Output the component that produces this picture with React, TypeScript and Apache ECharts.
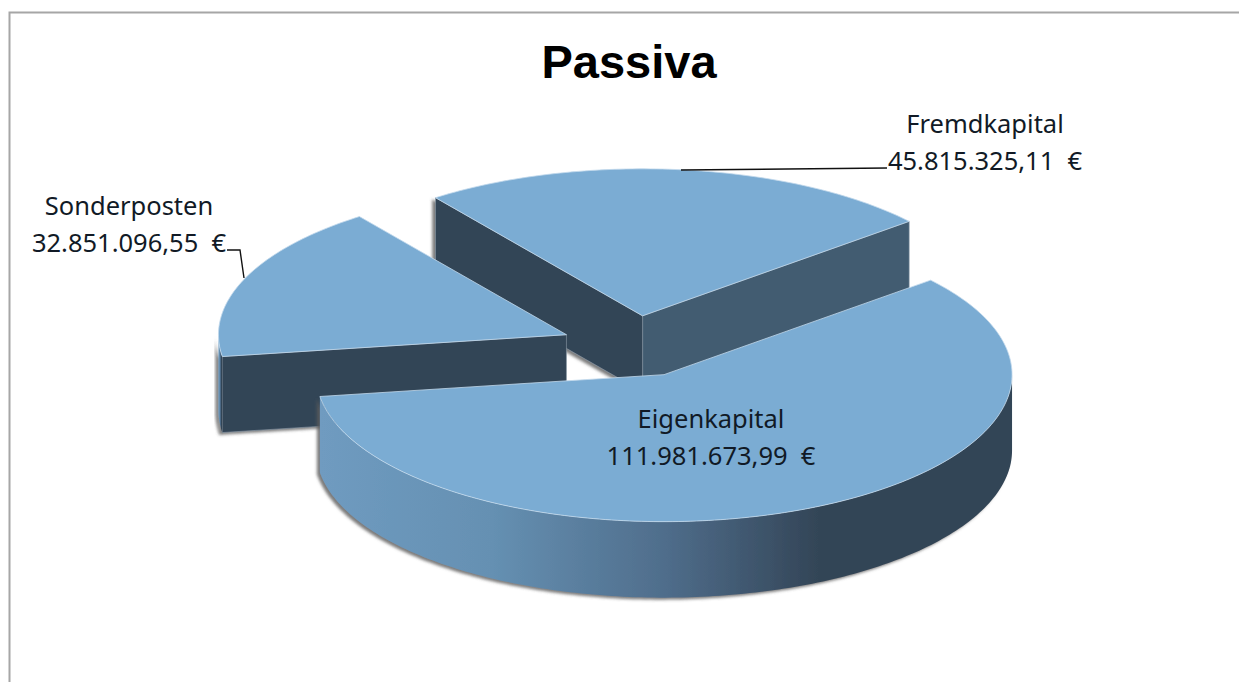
import React, { useEffect, useRef } from "react";
import * as echarts from "echarts";

const chartTitle = "Passiva";
const categories = ["Fremdkapital", "Sonderposten", "Eigenkapital"];
const amounts = [45815325.11, 32851096.55, 111981673.99];

const W = 1239;
const H = 682;
const START_ANGLE = 40;
const CENTER = [634, 346.5];
const RX = 348;
const RY = 147;
const DEPTH = 76;
const EXPLODE = 0.21;
const TOP_COLOR = "#7bacd3";
const FONT = '25.5px "Noto Sans", sans-serif';
const LABEL_POS = [
  [985, 141.5],
  [129, 223.5],
  [711, 436.5],
];
const LEADERS = [
  [[681, 170], [887, 168]],
  [[227, 250], [240, 250], [244, 278]],
  null,
];

const total = amounts.reduce((a, b) => a + b, 0);
const fmt = (v: number) =>
  v.toLocaleString("de-DE", { minimumFractionDigits: 2, maximumFractionDigits: 2 }) + "  €";
const rad = (d: number) => (d * Math.PI) / 180;

function arc(cx: number, cy: number, a1: number, a2: number) {
  const n = Math.max(1, Math.ceil(Math.abs(a2 - a1)));
  const pts: number[][] = [];
  for (let i = 0; i <= n; i++) {
    const a = rad(a1 + ((a2 - a1) * i) / n);
    pts.push([cx + RX * Math.cos(a), cy - RY * Math.sin(a)]);
  }
  return pts;
}

const SHADOW = { shadowBlur: 3, shadowColor: "rgba(90,90,90,0.8)", shadowOffsetX: -3, shadowOffsetY: 2 };

function renderItem(params: any) {
  const i = params.dataIndex;
  let a1 = START_ANGLE;
  for (let k = 0; k < i; k++) a1 += (amounts[k] / total) * 360;
  const a2 = a1 + (amounts[i] / total) * 360;
  const mid = rad((a1 + a2) / 2);
  const cx = CENTER[0] + EXPLODE * RX * Math.cos(mid);
  const cy = CENTER[1] - EXPLODE * RY * Math.sin(mid);
  const children: any[] = [];

  const cut = (angle: number, normal: number) => {
    const n = rad(normal);
    if (Math.sin(n) >= 0) return;
    const a = rad(angle);
    const ex = cx + RX * Math.cos(a);
    const ey = cy - RY * Math.sin(a);
    children.push({
      type: "polygon",
      shape: { points: [[cx, cy], [ex, ey], [ex, ey + DEPTH], [cx, cy + DEPTH]] },
      style: { fill: Math.cos(n) > 0.4 ? "#425c71" : "#334557", stroke: "#8c9aa8", lineWidth: 0.6, ...SHADOW },
    });
  };
  cut(a1, a1 - 90);
  cut(a2, a2 + 90);

  const w1 = Math.max(a1, 180);
  const w2 = Math.min(a2, 360);
  if (w2 > w1) {
    const topArc = arc(cx, cy, w1, w2);
    const botArc = arc(cx, cy + DEPTH, w2, w1);
    children.push({
      type: "polygon",
      shape: { points: [...topArc, ...botArc] },
      style: {
        fill: new echarts.graphic.LinearGradient(0, 0, 1, 0, [
          { offset: 0, color: "#6f9bc0" },
          { offset: 0.25, color: "#6590b2" },
          { offset: 0.5, color: "#4f6d8b" },
          { offset: 0.72, color: "#334557" },
          { offset: 1, color: "#334557" },
        ]),
        ...SHADOW,
      },
    });
  }

  children.push({
    type: "polygon",
    shape: { points: [[cx, cy], ...arc(cx, cy, a1, a2)] },
    style: { fill: TOP_COLOR, stroke: "#c3d9ec", lineWidth: 0.8 },
  });

  const leader = LEADERS[i];
  if (leader) {
    children.push({
      type: "polyline",
      shape: { points: leader },
      style: { stroke: "#111111", lineWidth: 1.4, fill: "none" },
    });
  }
  children.push({
    type: "text",
    x: LABEL_POS[i][0],
    y: LABEL_POS[i][1],
    style: {
      text: `${categories[i]}\n${fmt(amounts[i])}`,
      font: FONT,
      fill: "#111a26",
      align: "center",
      verticalAlign: "middle",
      lineHeight: 37.5,
    },
  });
  return { type: "group", children };
}

export default function App() {
  const ref = useRef<HTMLDivElement>(null);
  useEffect(() => {
    document.body.style.margin = "0";
    const chart = echarts.init(ref.current!, undefined, { renderer: "svg" });
    chart.setOption({
      animation: false,
      backgroundColor: "#ffffff",
      title: {
        text: chartTitle,
        left: 624,
        top: 33,
        textAlign: "center",
        textStyle: { fontFamily: '"Liberation Sans", Arial, sans-serif', fontWeight: "bold", fontSize: 47, color: "#000000" },
      },
      graphic: [
        {
          type: "polyline",
          shape: { points: [[9.5, H], [9.5, 12.5], [W, 12.5]] },
          style: { stroke: "#a6a6a6", lineWidth: 2, fill: "none" },
          silent: true,
        },
      ],
      series: [
        {
          type: "custom",
          coordinateSystem: "none",
          renderItem,
          data: categories.map((name, i) => ({ name, value: amounts[i] })),
        },
      ],
    });
    return () => chart.dispose();
  }, []);
  return <div ref={ref} style={{ position: "fixed", left: 0, top: 0, width: W, height: H }} />;
}
